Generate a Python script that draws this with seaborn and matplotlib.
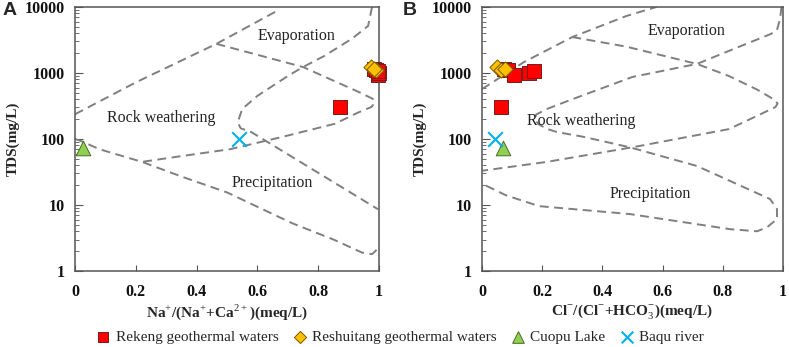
import matplotlib
matplotlib.use("Agg")
import matplotlib.pyplot as plt
from matplotlib.ticker import FixedLocator, FixedFormatter, LogLocator, NullFormatter
import pandas as pd
import seaborn as sns

# --- sample data ---
groups = ["Rekeng geothermal waters", "Reshuitang geothermal waters", "Cuopu Lake", "Baqu river"]

rekeng_tds = [310, 1150, 1100, 930, 1000, 1060]
rekeng_na = [0.873, 0.985, 0.99, 0.995, 1.0, 0.998]
rekeng_cl = [0.063, 0.072, 0.085, 0.105, 0.155, 0.174]

reshuitang_tds = [1250, 1100, 1150]
reshuitang_na = [0.975, 0.99, 0.985]
reshuitang_cl = [0.05, 0.064, 0.078]

cuopu_tds = [74]
cuopu_na = [0.027]
cuopu_cl = [0.07]

baqu_tds = [100]
baqu_na = [0.54]
baqu_cl = [0.042]

# --- Gibbs boundary curves, panel A ---
a_upper_x = [0, 0.2, 0.465, 0.668]
a_upper_y = [237, 720, 2760, 8900]
a_boom_x = [0.465, 0.75, 0.936, 0.98, 0.985, 0.975, 0.93, 0.855, 0.68, 0.51, 0.35, 0.22]
a_boom_y = [2760, 1230, 508, 404, 350, 305, 250, 170, 107, 70, 55, 45]
a_mid_x = [0.977, 0.964, 0.91, 0.82, 0.75, 0.70, 0.60, 0.55, 0.535, 0.545, 0.58, 0.997]
a_mid_y = [10000, 5150, 3280, 1810, 1230, 900, 450, 285, 178, 145, 127, 8.6]
a_low_x = [0, 0.02, 0.08, 0.22, 0.35, 0.5, 0.714, 0.85, 0.944, 0.977, 0.997]
a_low_y = [100, 93, 70, 45, 27, 15.5, 5.3, 3.0, 1.9, 1.8, 2.2]

# --- Gibbs boundary curves, panel B ---
b_upper_x = [0, 0.138, 0.30, 0.48, 0.58]
b_upper_y = [570, 1450, 3500, 7300, 10000]
b_boom_x = [0.30, 0.48, 0.714, 0.82, 0.914, 0.967, 0.982, 0.975, 0.914, 0.82, 0.508, 0.216, 0]
b_boom_y = [3500, 2500, 1370, 900, 560, 404, 345, 305, 224, 141, 76, 45, 33]
b_mid_x = [0.995, 0.99, 0.98, 0.96, 0.85, 0.714, 0.5, 0.3, 0.216, 0.18, 0.175, 0.19, 0.216,
           0.25, 0.336, 0.49, 0.714, 0.957, 0.98, 0.98, 0.947, 0.914, 0.824, 0.49, 0.19, 0.08, 0]
b_mid_y = [10000, 6500, 4500, 3900, 2450, 1370, 870, 400, 285, 235, 195, 165, 142,
           127, 108, 75, 39, 12.3, 8.7, 6.1, 4.6, 4.0, 4.3, 7.3, 9.6, 14, 21]

x_ticks = [0, 0.2, 0.4, 0.6, 0.8, 1.0]
x_ticklabels = ["0", "0.2", "0.4", "0.6", "0.8", "1"]
y_ticks = [1, 10, 100, 1000, 10000]
y_ticklabels = ["1", "10", "100", "1000", "10000"]

sns.set_style("ticks")
plt.rcParams["font.family"] = ["Liberation Serif", "DejaVu Serif"]
plt.rcParams["mathtext.fontset"] = "custom"
plt.rcParams["mathtext.rm"] = "Liberation Serif"
plt.rcParams["mathtext.bf"] = "Liberation Serif:bold"

fig = plt.figure(figsize=(7.89, 3.47), dpi=100)
ax_a = fig.add_axes([0.0951, 0.219, 0.3853, 0.761])
ax_b = fig.add_axes([0.6109, 0.219, 0.3815, 0.761])

line_color = "#7f7f7f"
dash = (0, (4.6, 2.8))


def draw_curves(ax, curves):
    for cx, cy in curves:
        sns.lineplot(x=cx, y=cy, sort=False, estimator=None, ax=ax, color=line_color,
                     lw=1.4, linestyle=dash)


def draw_points(ax, xs):
    sns.scatterplot(x=xs[0], y=rekeng_tds, ax=ax, marker="s", s=95, color="#ff0000",
                    edgecolor="#7a1a1a", linewidth=0.7, clip_on=False, zorder=5,
                    label=groups[0])
    sns.scatterplot(x=xs[1], y=reshuitang_tds, ax=ax, marker="D", s=60, color="#ffc000",
                    edgecolor="#7a5a00", linewidth=0.7, clip_on=False, zorder=6,
                    label=groups[1])
    sns.scatterplot(x=xs[2], y=cuopu_tds, ax=ax, marker="^", s=110, color="#8fd14f",
                    edgecolor="#4a6a2a", linewidth=0.7, clip_on=False, zorder=5,
                    label=groups[2])
    sns.scatterplot(x=xs[3], y=baqu_tds, ax=ax, marker="x", s=110, color="#00b0f0",
                    linewidth=1.5, clip_on=False, zorder=5, label=groups[3])


draw_curves(ax_a, [(a_upper_x, a_upper_y), (a_boom_x, a_boom_y),
                   (a_mid_x, a_mid_y), (a_low_x, a_low_y)])
draw_points(ax_a, [rekeng_na, reshuitang_na, cuopu_na, baqu_na])
draw_curves(ax_b, [(b_upper_x, b_upper_y), (b_boom_x, b_boom_y), (b_mid_x, b_mid_y)])
draw_points(ax_b, [rekeng_cl, reshuitang_cl, cuopu_cl, baqu_cl])

zone_font = dict(fontsize=11.5, ha="center", va="center", color="#222222")
ax_a.text(0.73, 3630, "Evaporation", **zone_font)
ax_a.text(0.285, 208, "Rock weathering", **zone_font)
ax_a.text(0.65, 21.5, "Precipitation", **zone_font)
ax_b.text(0.68, 4330, "Evaporation", **zone_font)
ax_b.text(0.33, 185, "Rock weathering", **zone_font)
ax_b.text(0.56, 14.6, "Precipitation", **zone_font)

for ax in (ax_a, ax_b):
    ax.set_yscale("log")
    ax.set_xlim(0, 1)
    ax.set_ylim(1, 10000)
    ax.xaxis.set_major_locator(FixedLocator(x_ticks))
    ax.xaxis.set_major_formatter(FixedFormatter(x_ticklabels))
    ax.yaxis.set_major_locator(FixedLocator(y_ticks))
    ax.yaxis.set_major_formatter(FixedFormatter(y_ticklabels))
    ax.yaxis.set_minor_locator(LogLocator(base=10, subs=range(2, 10)))
    ax.yaxis.set_minor_formatter(NullFormatter())
    ax.tick_params(axis="both", which="both", direction="in", colors="#555555",
                   labelcolor="#111111")
    ax.tick_params(axis="x", which="major", length=4, pad=9, labelsize=11.5)
    ax.tick_params(axis="y", which="major", length=6, pad=7, labelsize=11.5)
    ax.tick_params(axis="y", which="minor", length=3)
    for lab in ax.get_xticklabels() + ax.get_yticklabels():
        lab.set_fontweight("bold")
    for sp in ax.spines.values():
        sp.set_color("#555555")
        sp.set_linewidth(1.1)
    ax.set_ylabel("TDS(mg/L)", fontsize=11, fontweight="bold", labelpad=4)
    if ax.get_legend() is not None:
        ax.get_legend().remove()

ax_a.set_xlabel(r"Na$^{+}$/(Na$^{+}$+Ca$^{2+}$)(meq/L)", fontsize=11, fontweight="bold",
                labelpad=2)
ax_b.set_xlabel(r"Cl$^{-}$/(Cl$^{-}$+HCO$_{3}^{-}$)(meq/L)", fontsize=11, fontweight="bold",
                labelpad=2)

fig.text(0.003, 0.995, "A", fontsize=14, fontweight="bold", ha="left", va="top",
         family=["Liberation Sans", "DejaVu Sans"])
fig.text(0.511, 0.995, "B", fontsize=14, fontweight="bold", ha="left", va="top",
         family=["Liberation Sans", "DejaVu Sans"])

handles, labels = ax_a.get_legend_handles_labels()
fig.legend(handles, labels, loc="lower center", bbox_to_anchor=(0.507, -0.03), ncol=4,
           frameon=False, fontsize=11, handlelength=0.9, handletextpad=0.35,
           columnspacing=0.95, markerscale=0.8)

fig.savefig("out.png", dpi=100)
